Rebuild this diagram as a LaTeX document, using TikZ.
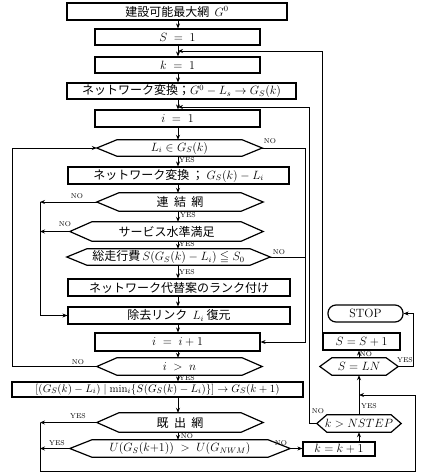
\documentclass[tikz,border=0pt]{standalone}
\usepackage{amsmath,amssymb}
\usepackage{fontspec}
\newfontfamily\jp{Noto Sans CJK JP}
\usetikzlibrary{arrows.meta}
\newcommand\myhex[7]{% name, x, y, w, h, slant, text
  \node[hexbox, minimum width=#4pt, minimum height=#5pt] (#1) at (#2,#3) {#7};
  \draw[ln] (#1.west) -- ([xshift=#6pt]#1.north west) -- ([xshift=-#6pt]#1.north east) -- (#1.east)
    -- ([xshift=-#6pt]#1.south east) -- ([xshift=#6pt]#1.south west) -- cycle;
}
\begin{document}
\begin{tikzpicture}[x=1pt,y=-1pt,
  ln/.style={line width=1.2pt},
  box/.style={draw, line width=1.2pt, inner sep=0pt, font=\jp\fontsize{12}{13}\selectfont},
  hexbox/.style={inner sep=0pt, font=\jp\fontsize{12}{13}\selectfont},
  arr/.style={line width=1pt, -{Stealth[length=5pt,width=4pt]}},
  con/.style={line width=1pt},
  lab/.style={font=\fontsize{7}{8}\selectfont, inner sep=0pt}]
\useasboundingbox (0,0) rectangle (423,474);

% helper coordinates
\coordinate (mx) at (178,0);
\coordinate (j1) at (178,51);
\coordinate (j2) at (178,107);
\coordinate (j3) at (359,395);
\coordinate (xr1) at (305,0);
\coordinate (xr2) at (309,0);
\coordinate (xr4) at (415,0);
\coordinate (xr5) at (413,0);
\coordinate (xl1) at (12,0);
\coordinate (xl2) at (40,0);
\coordinate (yb) at (0,471);

% main column
\node[box, minimum width=220pt, minimum height=17pt] (g0) at (177,11.5) {建設可能最大網\ \ $G^0$};
\node[box, minimum width=165pt, minimum height=16pt] (s1) at (177.5,37) {$S\;=\;1$};
\node[box, minimum width=165pt, minimum height=16pt] (k1) at (177.5,65) {$k\;=\;1$};
\node[box, minimum width=229pt, minimum height=16pt] (conv1) at (181.5,91) {ネットワーク変換；$G^0-L_s\to G_S(k)$};
\node[box, minimum width=165pt, minimum height=17pt] (i1) at (177.5,118.5) {$i\;=\;1$};
\myhex{d1}{179.5}{148}{165}{16}{20}{$L_i\in G_S(k)$}
\node[box, minimum width=221pt, minimum height=17pt] (conv2) at (178.5,175.5) {ネットワーク変換\ ；\ $G_S(k)-L_i$};
\myhex{d2}{180}{202}{166}{18}{22}{連\ \ 結\ \ 網}
\myhex{d3}{166.5}{231.5}{193}{19}{22}{サービス水準満足}
\myhex{d4}{168.5}{257}{203}{16}{20}{総走行費\,$S(G_S(k)-L_i)\leqq S_0$}
\node[box, minimum width=222pt, minimum height=17pt] (rank) at (179,287.5) {ネットワーク代替案のランク付け};
\node[box, minimum width=222pt, minimum height=17pt] (restore) at (179,315.5) {除去リンク\ \ $L_i$\ 復元};
\node[box, minimum width=165pt, minimum height=18pt] (inc) at (177.5,342) {$i\;=\;i+1$};
\myhex{d5}{179.5}{366.5}{165}{17}{20}{$i\;>\;n$}
\node[box, minimum width=291pt, minimum height=15pt, font=\fontsize{11}{12}\selectfont] (sel) at (157.5,389.5) {$[(G_S(k)-L_i)\mid \min_i\{S(G_S(k)-L_i)\}]\to G_S(k+1)$};
\myhex{d6}{180}{422.5}{166}{19}{22}{既\ \ 出\ \ 網}
\myhex{d7}{180}{448.5}{220}{17}{22}{$U(G_S(k{+}1))\;>\;U(G_{NWM})$}

% right column
\node[box, minimum width=72pt, minimum height=14pt] (kinc) at (339,449) {$k=k+1$};
\myhex{d8}{359}{423.5}{84}{17}{10}{$k>NSTEP$}
\myhex{d9}{359}{366.5}{78}{17}{12}{$S=LN$}
\node[box, minimum width=77pt, minimum height=17pt] (sinc) at (361.5,341.5) {$S=S+1$};
\node[box, rounded corners=8pt, minimum width=75pt, minimum height=17pt, font=\fontsize{12}{13}\selectfont] (stop) at (365.5,313.5) {STOP\hspace{20pt}};

% main flow
\draw[arr] (g0.south -| mx) -- (s1.north -| mx);
\draw[arr] (s1.south -| mx) -- (k1.north -| mx);
\draw[arr] (k1.south -| mx) -- (conv1.north -| mx);
\draw[arr] (conv1.south -| mx) -- (i1.north -| mx);
\draw[arr] (i1.south -| mx) -- (d1.north -| mx);
\draw[arr] (d1.south -| mx) -- (conv2.north -| mx);
\draw[arr] (conv2.south -| mx) -- (d2.north -| mx);
\draw[arr] (d2.south -| mx) -- (d3.north -| mx);
\draw[arr] (d3.south -| mx) -- (d4.north -| mx);
\draw[arr] (d4.south -| mx) -- (rank.north -| mx);
\draw[arr] (rank.south -| mx) -- (restore.north -| mx);
\draw[arr] (restore.south -| mx) -- (inc.north -| mx);
\draw[arr] (inc.south -| mx) -- (d5.north -| mx);
\draw[arr] (d5.south -| mx) -- (sel.north -| mx);
\draw[arr] (sel.south -| mx) -- (d6.north -| mx);
\draw[arr] (d6.south -| mx) -- (d7.north -| mx);

% right loops
\draw[arr] (sinc.north west) -- (sinc.north west |- j1) -- (j1);
\draw[arr] (d8.west) -- (xr2 |- d8.west) -- (xr2 |- j2) -- (j2);
\draw[arr] (d1.east) -- (xr1 |- d1.east) -- (xr1 |- inc.east) -- (inc.east);
\draw[con] (d4.east) -- (xr1 |- d4.east);
\draw[arr] (d7.east) -- (kinc.west |- d7.east);
\draw[arr] (kinc.north -| d8.north) -- (d8.south);
\draw[arr] (d8.north) -- (d9.south);
\draw[arr] (d9.north) -- (sinc.south -| d9.north);
\draw[arr] (d9.east) -- (xr5 |- d9.east) -- (xr5 |- stop.east) -- (stop.east);

% left loops
\draw[arr] (d5.west) -- (xl1 |- d5.west) -- (xl1 |- d1.west) -- (d1.west);
\draw[arr] (d2.west) -- (xl2 |- d2.west);
\draw[arr] (xl2 |- d2.west) -- (xl2 |- restore.west) -- (restore.west);
\draw[arr] (d3.west) -- (xl2 |- d3.west);
\draw[arr] (d6.west) -- (xl2 |- d6.west);
\draw[arr] (d7.west) -- (xl2 |- d7.west);
\draw[arr] (xl2 |- d6.west) -- (xl2 |- yb) -- (xr4 |- yb) -- (xr4 |- j3) -- (j3);

% labels
\node[lab] (l1) at (187,160) {YES};
\node[lab] (l2) at (270,141) {NO};
\node[lab] (l3) at (77,196) {NO};
\node[lab] (l4) at (188,215) {YES};
\node[lab] (l5) at (65,224) {NO};
\node[lab] (l6) at (187,244.5) {YES};
\node[lab] (l7) at (279,252) {NO};
\node[lab] (l8) at (187,272) {YES};
\node[lab] (l9) at (78,362) {NO};
\node[lab] (l10) at (187,378) {YES};
\node[lab] (l11) at (78,416) {YES};
\node[lab] (l12) at (187,436) {NO};
\node[lab] (l13) at (57,443) {YES};
\node[lab] (l14) at (281,443) {NO};
\node[lab] (l15) at (318,411) {NO};
\node[lab] (l16) at (369,406) {YES};
\node[lab] (l17) at (366,354) {NO};
\node[lab] (l18) at (405,360) {YES};
\end{tikzpicture}
\end{document}
